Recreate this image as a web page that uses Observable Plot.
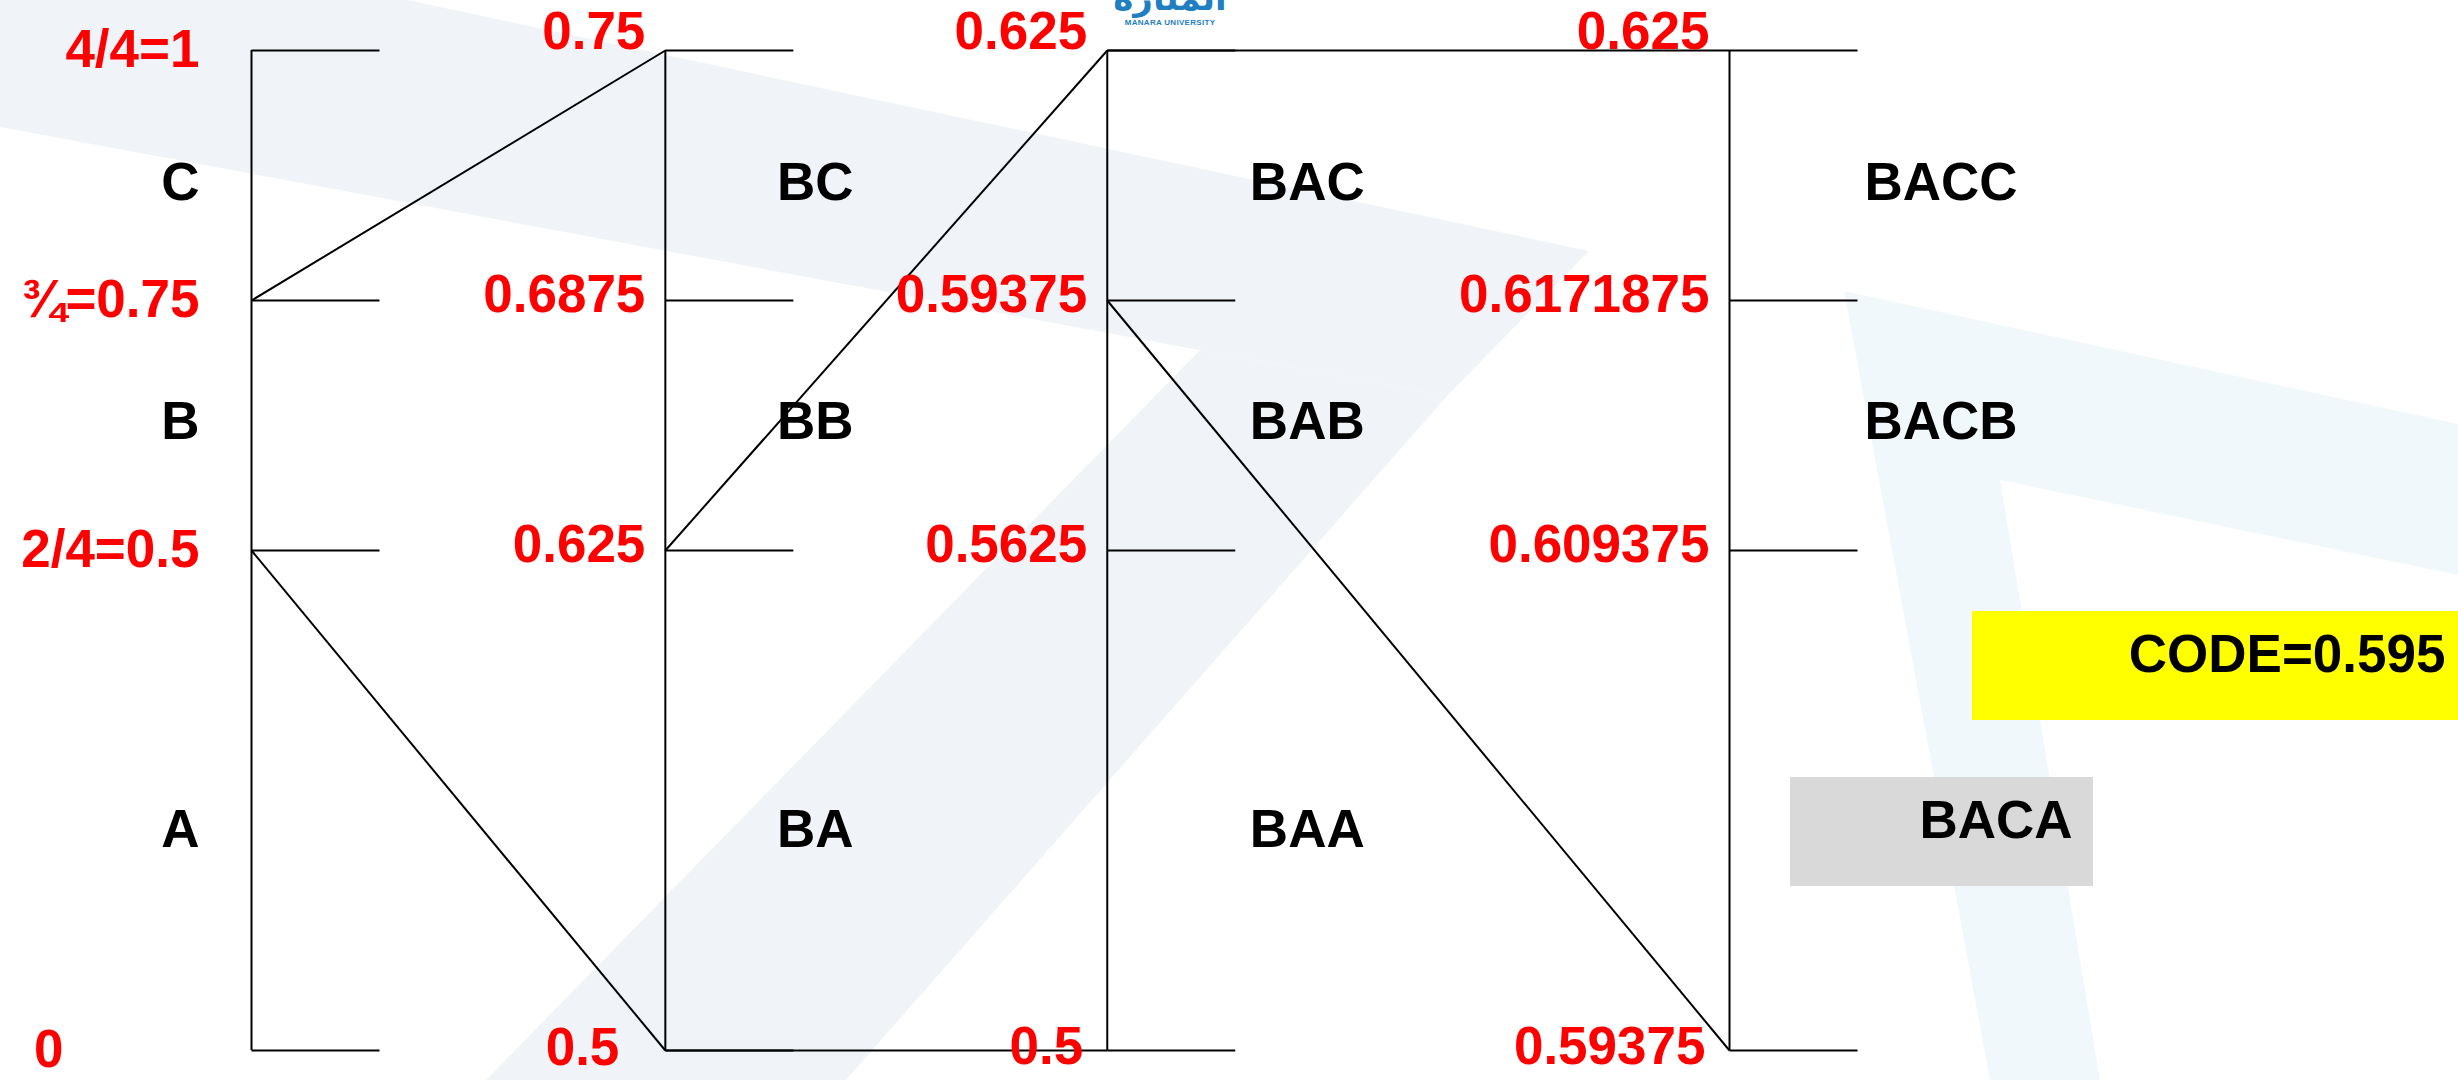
<!DOCTYPE html>
<html><head><meta charset="utf-8">
<script src="https://cdn.jsdelivr.net/npm/d3@7"></script>
<script src="https://cdn.jsdelivr.net/npm/@observablehq/plot@0.6"></script>
<style>
html,body{margin:0;padding:0;background:#fff;}
#wrap{position:relative;width:2458px;height:1080px;overflow:hidden;background-color:#fff;
  background-image:url("data:image/svg+xml;utf8,<svg xmlns='http://www.w3.org/2000/svg' width='2458' height='1080'><g fill='%23f0f4f8'><polygon points='0,0 407,0 1589,251 1447,396 0,127'/><polygon points='486,1080 846,1080 1447,396 1200,350'/></g><g fill='%23f1f8fc'><polygon points='1844,291 2458,424 2458,575 2000,480 2100,1080 1990,1080'/></g></svg>");
  background-repeat:no-repeat;}
#chart{position:absolute;left:0;top:0;}
#chart svg{display:block;}
#logo{position:absolute;left:1100px;top:-22px;width:140px;text-align:center;color:#1f7fc0;}
#logo .ar{font-family:"DejaVu Sans",sans-serif;font-weight:bold;font-size:34px;line-height:40px;}
#logo .en{font-family:"Liberation Sans",sans-serif;font-weight:bold;font-size:8px;line-height:9px;letter-spacing:0.3px;}
</style></head><body>
<div id="wrap"><div id="chart"></div>
<div id="logo"><div class="ar">المنارة</div><div class="en">MANARA UNIVERSITY</div></div>
</div>
<script>
// ---- data ----
const symbols = ["A", "B", "C"];
const message = ["B", "A", "C"];
const bounds1 = [0, 0.5, 0.75, 1];
const bounds2 = [0.5, 0.625, 0.6875, 0.75];
const bounds3 = [0.5, 0.5625, 0.59375, 0.625];
const bounds4 = [0.59375, 0.609375, 0.6171875, 0.625];
const labels1 = ["0", "2/4=0.5", "¾=0.75", "4/4=1"];
const segs1 = ["A", "B", "C"];
const segs2 = ["BA", "BB", "BC"];
const segs3 = ["BAA", "BAB", "BAC"];
const segs4 = ["BACA", "BACB", "BACC"];
const code = 0.595;
const codeLabel = "CODE=0.595";

// ---- tables derived from the data ----
const allBounds = [bounds1, bounds2, bounds3, bounds4];
const allSegs = [segs1, segs2, segs3, segs4];
const norm = (b, v) => (v - b[0]) / (b[b.length - 1] - b[0]);
const boundaryRows = allBounds.flatMap((b, col) => b.map((v, j) => ({
  col, j, last: j === b.length - 1, pos: norm(b, v),
  label: col === 0 ? labels1[j] : String(v)
})));
const segmentRows = allSegs.flatMap((s, col) => s.map((name, k) => ({
  col, k, name,
  lo: allBounds[col][k], hi: allBounds[col][k + 1],
  pos: (norm(allBounds[col], allBounds[col][k]) + norm(allBounds[col], allBounds[col][k + 1])) / 2
})));
const links = message.flatMap((sym, col) => {
  const k = symbols.indexOf(sym), b = allBounds[col];
  return [
    {c1: col, y1: norm(b, b[k]), c2: col + 1, y2: 0},
    {c1: col, y1: norm(b, b[k + 1]), c2: col + 1, y2: 1}
  ];
});
const columns = allBounds.map((b, col) => ({col}));
const lastCol = allBounds.length - 1;
const selected = segmentRows.filter(d => d.col === lastCol && code >= d.lo && code < d.hi);

// ---- layout: the step columns sit at uneven slots along x ----
const colSlot = d3.scaleLinear().domain([0, 1, 2, 3]).range([0, 0.84, 1.737, 3]);
const cx = d => colSlot(d.col);

// ---- styles ----
const font = {fontFamily: "'Liberation Sans', Arial, sans-serif", fontWeight: "bold", fontSize: 53};
const red = "#ff0000";
const tickSymbol = {draw(ctx) { ctx.moveTo(0, 0); ctx.lineTo(128, 0); }};
const seg = (filter, opts) => Plot.text(segmentRows.filter(filter), {x: cx, y: "pos", text: "name", fill: "#000", ...font, ...opts});
const segDy = [30, -3, 8];

const segMarks = [];
for (let k = 0; k < 3; k++) {
  segMarks.push(seg(d => d.col === 0 && d.k === k, {textAnchor: "end", dx: -52, dy: segDy[k]}));
  segMarks.push(seg(d => d.col === 1 && d.k === k, {textAnchor: "middle", dx: 150, dy: segDy[k]}));
  segMarks.push(seg(d => d.col === 2 && d.k === k, {textAnchor: "middle", dx: 200, dy: segDy[k]}));
  segMarks.push(seg(d => d.col === lastCol && d.k === k && !selected.includes(d), {textAnchor: "start", dx: 135, dy: segDy[k]}));
}

const chart = Plot.plot({
  width: 2458, height: 1080,
  margin: 0,
  style: {background: "transparent", overflow: "visible"},
  x: {domain: [0, 3], range: [251, 1729], axis: null},
  y: {domain: [0, 1], range: [1050, 50], axis: null},
  marks: [
    Plot.rect(selected, {x1: cx, x2: cx, y1: "pos", y2: "pos", fill: "#d9d9d9",
      insetLeft: 61, insetRight: -364, insetTop: -23, insetBottom: -86}),
    Plot.rect(selected, {x1: cx, x2: cx, y1: "pos", y2: "pos", fill: "#ffff00",
      insetLeft: 243, insetRight: -729, insetTop: -189, insetBottom: 80}),
    Plot.ruleX(columns, {x: cx, y1: 0, y2: 1, stroke: "#000", strokeWidth: 2}),
    Plot.dot(boundaryRows, {x: cx, y: "pos", symbol: tickSymbol, stroke: "#000", strokeWidth: 2, fill: "none"}),
    Plot.link(links, {x1: d => colSlot(d.c1), y1: "y1", x2: d => colSlot(d.c2), y2: "y2", stroke: "#000", strokeWidth: 2}),
    // boundary value labels
    Plot.text(boundaryRows.filter(d => d.col === 0 && d.j > 0), {x: cx, y: "pos", text: "label", fill: red, textAnchor: "end", dx: -52, ...font}),
    Plot.text(boundaryRows.filter(d => d.col === 0 && d.j === 0), {x: cx, y: "pos", text: "label", fill: red, textAnchor: "end", dx: -188, ...font}),
    Plot.text(boundaryRows.filter(d => d.col > 0 && d.last), {x: cx, y: "pos", text: "label", fill: red, textAnchor: "end", dx: -20, dy: -18, ...font}),
    Plot.text(boundaryRows.filter(d => d.col > 0 && !d.last && d.j > 0), {x: cx, y: "pos", text: "label", fill: red, textAnchor: "end", dx: -20, dy: -5, ...font}),
    Plot.text(boundaryRows.filter(d => d.col === 1 && d.j === 0), {x: cx, y: "pos", text: "label", fill: red, textAnchor: "end", dx: -46, dy: -2, ...font}),
    Plot.text(boundaryRows.filter(d => d.col > 1 && d.j === 0), {x: cx, y: "pos", text: "label", fill: red, textAnchor: "end", dx: -24, dy: -3, ...font}),
    // segment labels
    ...segMarks,
    Plot.text(selected, {x: cx, y: "pos", text: "name", fill: "#000", textAnchor: "end", dx: 343, dy: 21, ...font}),
    Plot.text(selected, {x: cx, y: "pos", text: () => codeLabel, fill: "#000", textAnchor: "end", dx: 716, dy: -145, ...font})
  ]
});
document.getElementById("chart").appendChild(chart);
</script>
</body></html>
